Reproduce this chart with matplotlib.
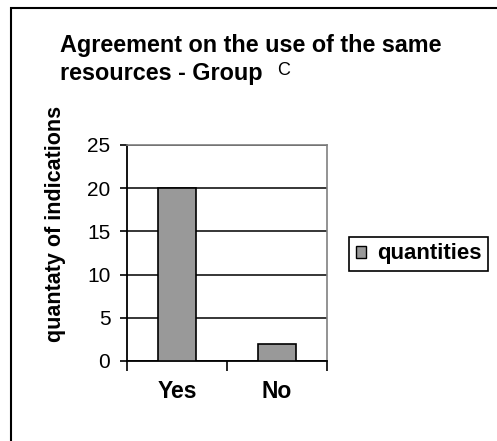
import matplotlib.pyplot as plt
from matplotlib.patches import Rectangle

# --- Dane ---
categories = ["Yes", "No"]
quantities = [20, 2]
y_ticks = [0, 5, 10, 15, 20, 25]

W, H = 497, 441
plt.rcParams['font.family'] = ['Liberation Sans', 'DejaVu Sans']

fig = plt.figure(figsize=(W / 100, H / 100), dpi=100)

# ramka zewnetrzna
fig.patches.append(Rectangle((11 / W, -0.1), 1.2, (441 - 8) / H + 0.1, transform=fig.transFigure,
                             fill=False, edgecolor='black', linewidth=1.5))

ax = fig.add_axes([127 / W, (H - 361) / H, 200 / W, 216 / H])
x = list(range(len(categories)))
ax.bar(x, quantities, width=0.385, color='#999999', edgecolor='black', linewidth=1.2, zorder=3)

ax.set_xlim(-0.5, len(categories) - 0.5)
ax.set_ylim(0, 25)
ax.set_yticks(y_ticks)
ax.set_yticklabels([str(t) for t in y_ticks], fontsize=15)
ax.yaxis.grid(True, color='black', linewidth=1.1, zorder=0)
ax.set_axisbelow(True)

ax.set_xticks([i - 0.5 for i in range(len(categories) + 1)])
ax.set_xticklabels([])
ax.set_xticks(x, minor=True)
ax.set_xticklabels(categories, minor=True, fontsize=16.5, fontweight='bold')
ax.tick_params(axis='x', which='major', length=7, width=1.2, direction='out')
ax.tick_params(axis='x', which='minor', length=0, pad=14)
ax.tick_params(axis='y', length=5, width=1.2, pad=7)

for side in ['top', 'right']:
    ax.spines[side].set_color('#808080')
    ax.spines[side].set_linewidth(1.2)
for side in ['left', 'bottom']:
    ax.spines[side].set_color('black')
    ax.spines[side].set_linewidth(1.3)

# opis osi Y (wyzej niz srodek osi, jak w oryginale)
fig.text(55 / W, 1 - 224 / H, "quantaty of indications", fontsize=15.5, fontweight='bold',
         rotation=90, ha='center', va='center')

# tytul
fig.text(60 / W, 1 - 52 / H, "Agreement on the use of the same", fontsize=16.8,
         fontweight='bold', va='baseline')
fig.text(60 / W, 1 - 80 / H, "resources - Group", fontsize=16.8,
         fontweight='bold', va='baseline')
fig.text(277 / W, 1 - 75 / H, "C", fontsize=13, va='baseline')

leg = ax.legend([Rectangle((0, 0), 1, 1, facecolor='#999999', edgecolor='black')], ["quantities"],
                loc='center left', bbox_to_anchor=(349 / W, 1 - 254 / H),
                bbox_transform=fig.transFigure, borderaxespad=0, fancybox=False, framealpha=1,
                edgecolor='black', prop={'weight': 'bold', 'size': 16},
                handlelength=0.45, handleheight=0.45, handletextpad=0.5, borderpad=0.3)
leg.get_frame().set_linewidth(1.2)

plt.savefig("out.png", dpi=100)
